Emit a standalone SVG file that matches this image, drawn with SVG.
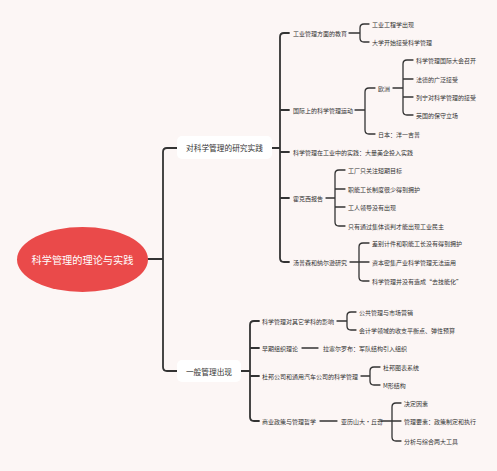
<svg xmlns="http://www.w3.org/2000/svg" width="497" height="471" viewBox="0 0 497 471">
<style>
text{font-family:"Noto Sans CJK SC","Noto Sans",sans-serif;fill:#333;dominant-baseline:central}
.l{font-size:6px}
.b{font-size:7.7px;text-anchor:middle}
.r{font-size:10.2px;fill:#fff;text-anchor:middle}
.c{fill:none;stroke:#333;stroke-linecap:round;stroke-linejoin:round}
.c1{stroke-width:1.8}
.c2{stroke-width:1.3}
</style>
<rect width="497" height="471" fill="#fcf6f5"/>
<g id="connectors">
<path class="c c1" d="M148 259H163M177 148H167Q163 148 163 152V367Q163 371 167 371H177"/>
<path class="c c1" d="M272 148H280M289 33H284Q280 33 280 37V258Q280 262 284 262H289M280 110H289M280 152H289M280 198H289"/>
<path class="c c2" d="M349 33H360M369 24H364Q360 24 360 28V38Q360 42 364 42H369"/>
<path class="c c2" d="M355 110H365M375 88H369Q365 88 365 92V130Q365 134 369 134H375"/>
<path class="c c2" d="M393 88H403M413 60H407Q403 60 403 64V111Q403 115 407 115H413M403 79H413M403 97H413"/>
<path class="c c2" d="M326 198H335M345 170H339Q335 170 335 174V222Q335 226 339 226H345M335 189H345M335 207H345"/>
<path class="c c2" d="M350 262H359M369 243H363Q359 243 359 247V277Q359 281 363 281H369M359 262H369"/>
<path class="c c1" d="M241 371H250M259 321H254Q250 321 250 325V417Q250 421 254 421H259M250 348H259M250 376H259"/>
<path class="c c2" d="M337 321H347M356 312H351Q347 312 347 316V326Q347 330 351 330H356"/>
<path class="c c2" d="M302 348H318"/>
<path class="c c2" d="M361 376H370M380 367H374Q370 367 370 371V381Q370 385 374 385H380"/>
<path class="c c2" d="M320 421H337M381 421H392M401 403H396Q392 403 392 407V437Q392 441 396 441H401M392 421H401"/>
</g>
<g id="root">
<ellipse cx="82.5" cy="259.5" rx="65.5" ry="32.5" fill="#ea4a4a"/>
<text class="r" x="82.5" y="259.5">科学管理的理论与实践</text>
</g>
<g id="b1">
<rect x="177" y="136" width="95" height="23" rx="5" fill="#fff"/>
<text class="b" x="224.5" y="147.5">对科学管理的研究实践</text>
</g>
<g id="b2">
<rect x="177" y="360" width="64" height="22" rx="5" fill="#fff"/>
<text class="b" x="209" y="371">一般管理出现</text>
</g>
<g id="n1"><text class="l" x="293" y="33">工业管理方面的教育</text></g>
<g id="n1a"><text class="l" x="372" y="24">工业工程学出现</text></g>
<g id="n1b"><text class="l" x="372" y="42">大学开始接受科学管理</text></g>
<g id="n2"><text class="l" x="293" y="110">国际上的科学管理运动</text></g>
<g id="n2a"><text class="l" x="378" y="88">欧洲</text></g>
<g id="n2a1"><text class="l" x="416" y="60">科学管理国际大会召开</text></g>
<g id="n2a2"><text class="l" x="416" y="79">法德的广泛接受</text></g>
<g id="n2a3"><text class="l" x="416" y="97">列宁对科学管理的接受</text></g>
<g id="n2a4"><text class="l" x="416" y="115">英国的保守立场</text></g>
<g id="n2b"><text class="l" x="378" y="134">日本：洋一吉普</text></g>
<g id="n3"><text class="l" x="293" y="152">科学管理在工业中的实践：大量美企投入实践</text></g>
<g id="n4"><text class="l" x="293" y="198">霍克西报告</text></g>
<g id="n4a"><text class="l" x="348" y="170">工厂只关注短期目标</text></g>
<g id="n4b"><text class="l" x="348" y="189">职能工长制度很少得到拥护</text></g>
<g id="n4c"><text class="l" x="348" y="207">工人领导没有出现</text></g>
<g id="n4d"><text class="l" x="348" y="226">只有通过集体谈判才能出现工业民主</text></g>
<g id="n5"><text class="l" x="293" y="262">汤普森和纳尔逊研究</text></g>
<g id="n5a"><text class="l" x="372" y="243">差别计件和职能工长没有得到拥护</text></g>
<g id="n5b"><text class="l" x="372" y="262">资本密集产业科学管理无法运用</text></g>
<g id="n5c"><text class="l" x="372" y="281">科学管理并没有造成“去技能化”</text></g>
<g id="m1"><text class="l" x="262" y="321">科学管理对其它学科的影响</text></g>
<g id="m1a"><text class="l" x="359" y="312">公共管理与市场营销</text></g>
<g id="m1b"><text class="l" x="359" y="330">会计学领域的收支平衡点、弹性预算</text></g>
<g id="m2"><text class="l" x="262" y="348">早期组织理论</text></g>
<g id="m2a"><text class="l" x="323" y="348">拉塞尔罗布：军队结构引入组织</text></g>
<g id="m3"><text class="l" x="262" y="376">杜邦公司和通用汽车公司的科学管理</text></g>
<g id="m3a"><text class="l" x="383" y="367">杜邦图表系统</text></g>
<g id="m3b"><text class="l" x="383" y="385">M形结构</text></g>
<g id="m4"><text class="l" x="262" y="421">商业政策与管理哲学</text></g>
<g id="m4a"><text class="l" x="341" y="421">亚历山大·丘奇</text></g>
<g id="m4a1"><text class="l" x="404" y="403">决定因素</text></g>
<g id="m4a2"><text class="l" x="404" y="421">管理要素：政策制定和执行</text></g>
<g id="m4a3"><text class="l" x="404" y="441">分析与综合两大工具</text></g>
</svg>
